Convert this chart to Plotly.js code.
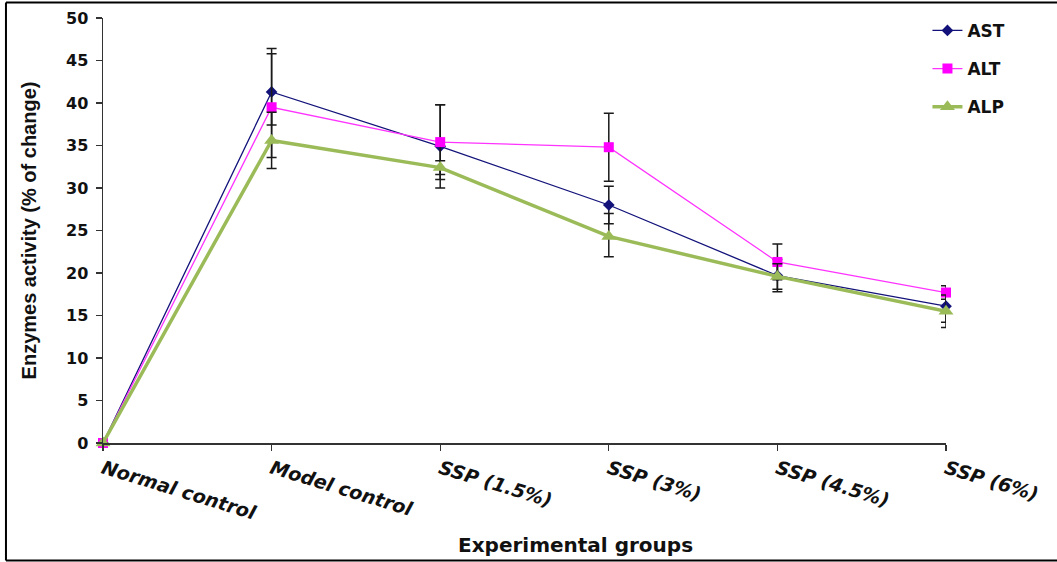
<!DOCTYPE html>
<html>
<head>
<meta charset="utf-8">
<script src="https://cdn.plot.ly/plotly-3.0.1.min.js"></script>
<style>html,body{margin:0;padding:0;background:#fff;overflow:hidden;}#chart{width:1057px;height:562px;}</style>
</head>
<body>
<div id="chart"></div>
<script>
var groups = ["Normal control", "Model control", "SSP (1.5%)", "SSP (3%)", "SSP (4.5%)", "SSP (6%)"];
var astValues = [0, 41.3, 34.9, 28.0, 19.7, 16.1];
var altValues = [0, 39.5, 35.4, 34.8, 21.3, 17.7];
var alpValues = [0, 35.6, 32.4, 24.3, 19.6, 15.5];
var astErrPlus  = [0, 5.1, 4.9, 2.2, 1.9, 1.9];
var astErrMinus = [0, 3.9, 4.9, 2.2, 1.9, 1.9];
var altErrPlus  = [0, 6.3, 4.4, 4.0, 2.1, 0.8];
var altErrMinus = [0, 5.9, 4.4, 4.0, 2.1, 0.8];
var alpErrPlus  = [0, 3.3, 0.8, 2.7, 1.5, 1.9];
var alpErrMinus = [0, 3.3, 0.8, 2.4, 1.5, 1.9];
var yTicks = [0, 5, 10, 15, 20, 25, 30, 35, 40, 45, 50];

function errBar(plus, minus) {
  return {type: 'data', symmetric: false, array: plus, arrayminus: minus,
          color: '#1a1a1a', thickness: 1.5, width: 5};
}

var traces = [
  {x: groups, y: astValues, name: 'AST', type: 'scatter', mode: 'lines+markers',
   legendgroup: 'a', cliponaxis: false,
   line: {color: '#12127a', width: 1.3},
   marker: {symbol: 'diamond', size: 9, color: '#12127a'},
   error_y: errBar(astErrPlus, astErrMinus)},
  {x: groups, y: altValues, name: 'ALT', type: 'scatter', mode: 'lines+markers',
   legendgroup: 'b', cliponaxis: false,
   line: {color: '#ff33ff', width: 1.3},
   marker: {symbol: 'square', size: 10, color: '#ff00ff'},
   error_y: errBar(altErrPlus, altErrMinus)},
  {x: groups, y: alpValues, name: 'ALP', type: 'scatter', mode: 'lines+markers',
   legendgroup: 'c', cliponaxis: false,
   line: {color: '#9bbb59', width: 3.5},
   marker: {symbol: 'triangle-up', size: 13, color: '#9bbb59'},
   error_y: errBar(alpErrPlus, alpErrMinus)}
];

var border = {color: '#000', width: 2};
var layout = {
  width: 1057, height: 562,
  margin: {l: 103, r: 111, t: 18, b: 119, autoexpand: false},
  paper_bgcolor: '#ffffff', plot_bgcolor: '#ffffff',
  showlegend: true,
  legend: {x: 0.978, y: 1.012, xanchor: 'left', yanchor: 'top',
           bgcolor: 'rgba(0,0,0,0)', tracegroupgap: 13, traceorder: 'grouped',
           font: {family: 'DejaVu Sans', size: 17, color: '#111', weight: 'bold'}},
  xaxis: {
    type: 'category', range: [0, 5], showgrid: false, zeroline: false,
    showline: true, linecolor: '#333', linewidth: 1.5,
    ticks: 'outside', ticklen: 6, tickcolor: '#333', tickwidth: 1.2,
    tickangle: 17,
    tickfont: {family: 'DejaVu Sans', size: 19, color: '#111', weight: 'bold', style: 'italic'},
    automargin: false
  },
  yaxis: {
    range: [0, 50], tickvals: yTicks, showgrid: false, zeroline: false,
    showline: true, linecolor: '#333', linewidth: 1.5,
    ticks: 'outside', ticklen: 6, tickcolor: '#333', tickwidth: 1.2,
    ticklabelstandoff: 4,
    tickfont: {family: 'DejaVu Sans', size: 16, color: '#111', weight: 'bold'},
    title: {text: 'Enzymes activity (% of change)', standoff: 24,
            font: {family: 'Liberation Sans', size: 20, color: '#111', weight: 'bold'}},
    automargin: false
  },
  annotations: [{
    text: 'Experimental groups', xref: 'paper', yref: 'paper',
    x: 0.561, y: -0.24, xanchor: 'center', yanchor: 'middle', showarrow: false,
    font: {family: 'DejaVu Sans', size: 20, color: '#111', weight: 'bold'}
  }],
  shapes: [
    {type: 'line', xref: 'paper', yref: 'paper', x0: -0.1151, x1: -0.1151, y0: -0.2765, y1: 1.0365, line: border, layer: 'below'},
    {type: 'line', xref: 'paper', yref: 'paper', x0: -0.1151, x1: 1.14, y0: 1.0365, y1: 1.0365, line: border, layer: 'below'},
    {type: 'line', xref: 'paper', yref: 'paper', x0: -0.1151, x1: 1.14, y0: -0.2765, y1: -0.2765, line: border, layer: 'below'}
  ]
};

Plotly.newPlot('chart', traces, layout, {displayModeBar: false, staticPlot: true});
</script>
</body>
</html>
